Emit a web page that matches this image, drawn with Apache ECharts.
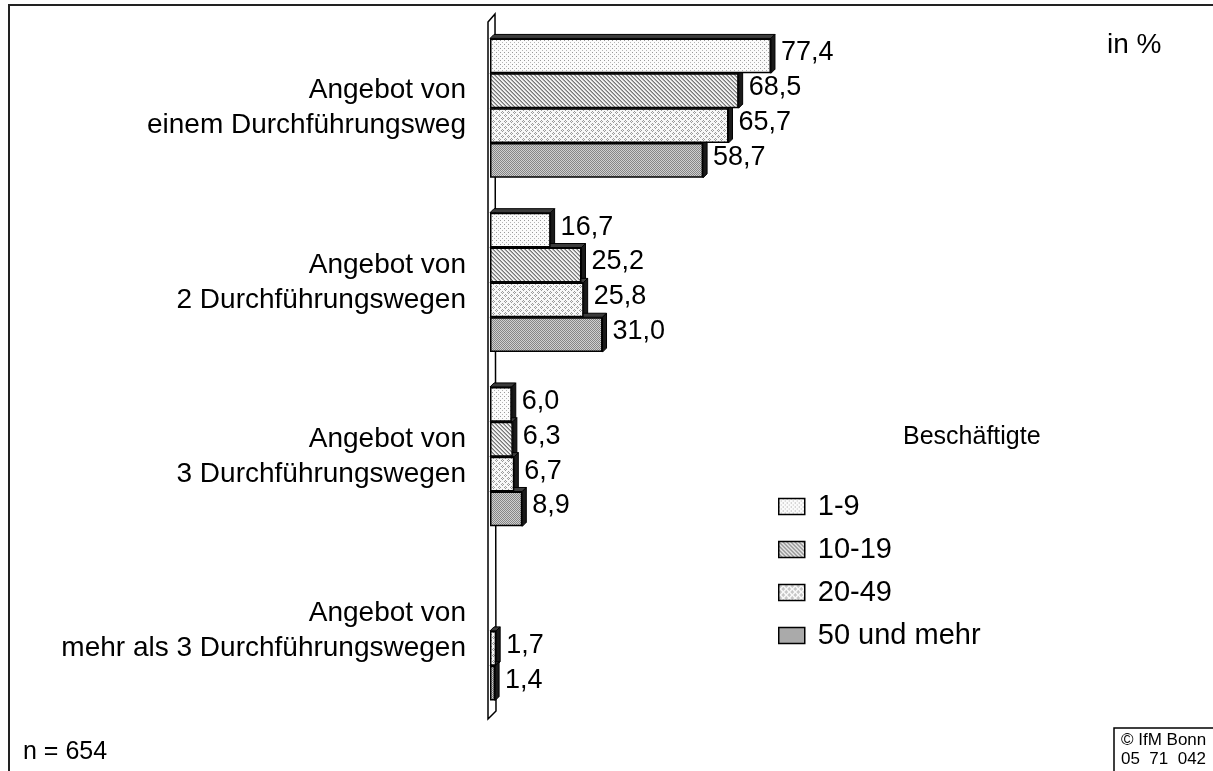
<!DOCTYPE html>
<html><head><meta charset="utf-8">
<script src="https://cdn.jsdelivr.net/npm/echarts@6/dist/echarts.min.js"></script>
<style>html,body{margin:0;padding:0;background:#fff}#chart{width:1213px;height:771px}</style>
</head><body><div id="chart"></div>
<script>
// ---- data ----
const categories = [
  'Angebot von\neinem Durchführungsweg',
  'Angebot von\n2 Durchführungswegen',
  'Angebot von\n3 Durchführungswegen',
  'Angebot von\nmehr als 3 Durchführungswegen'
];
const seriesNames = ['1-9', '10-19', '20-49', '50 und mehr'];
const v1_9    = [77.4, 16.7, 6.0, null];
const v10_19  = [68.5, 25.2, 6.3, null];
const v20_49  = [65.7, 25.8, 6.7, 1.7];
const v50plus = [58.7, 31.0, 8.9, 1.4];
const seriesValues = [v1_9, v10_19, v20_49, v50plus];
const xMax = 100;
const unitNote = 'in %';
const sampleNote = 'n = 654';
const legendTitle = 'Beschäftigte';
const copyrightLines = ['© IfM Bonn', '05  71  042'];

// ---- styles ----
const FONT = '"Liberation Sans", Arial, sans-serif';
const DEPTH = 4;
function makePattern(size, bg, dots) {
  const c = document.createElement('canvas'); c.width = size; c.height = size;
  const g = c.getContext('2d'); g.fillStyle = bg; g.fillRect(0, 0, size, size);
  dots.forEach(([x, y, col]) => { g.fillStyle = col; g.fillRect(x, y, 1, 1); });
  return { image: c, repeat: 'repeat' };
}
const patterns = [
  makePattern(4, '#fbfbfb', [[0,0,'#999'],[2,2,'#b5b5b5']]),
  makePattern(4, '#f0f0f0', [[0,0,'#777'],[1,1,'#777'],[2,2,'#777'],[3,3,'#777'],[0,1,'#aaa'],[1,2,'#aaa'],[2,3,'#aaa'],[3,0,'#aaa']]),
  makePattern(6, '#f8f8f8', [[1,0,'#999'],[0,1,'#999'],[2,1,'#999'],[1,2,'#999'],[4,3,'#999'],[3,4,'#999'],[5,4,'#999'],[4,5,'#999']]),
  makePattern(2, '#cfcfcf', [[0,0,'#858585'],[1,1,'#858585']])
];
const fmt = v => v.toFixed(1).replace('.', ',');

const barSeries = seriesNames.map((name, i) => ({
  name, type: 'bar', data: seriesValues[i], z: 3,
  barGap: '0%', barCategoryGap: '20%',
  itemStyle: { color: patterns[i], borderColor: '#000', borderWidth: 1.5 },
  label: { show: true, position: 'right', distance: 10, offset: [0, -3],
    formatter: p => fmt(p.value), fontSize: 27, color: '#000', fontFamily: FONT },
  emphasis: { disabled: true }
}));

const sideSeries = seriesNames.map((name, i) => ({
  name: name + ' 3d', type: 'custom', z: 2, silent: true,
  data: seriesValues[i].map((v, j) => v == null ? null : [v, j]).filter(d => d),
  encode: { x: 0, y: 1 },
  renderItem: (params, api) => {
    const v = api.value(0), c = api.value(1);
    const end = api.coord([v, c]), start = api.coord([0, c]);
    const band = api.size([0, 1])[1];
    const bw = band * 0.8 / 4;
    const top = end[1] - band * 0.4 + i * bw;
    const bot = top + bw;
    const x0 = start[0], x1 = end[0], d = DEPTH;
    return { type: 'group', children: [
      { type: 'polygon', shape: { points: [[x0, top], [x0 + d, top - d], [x1 + d, top - d], [x1, top]] },
        style: { fill: '#3c3c3c', stroke: '#000', lineWidth: 1 } },
      { type: 'polygon', shape: { points: [[x1, top], [x1 + d, top - d], [x1 + d, bot - d], [x1, bot]] },
        style: { fill: '#1a1a1a', stroke: '#000', lineWidth: 1 } }
    ]};
  }
}));

const wallSeries = {
  type: 'custom', z: 1, silent: true, data: [[0, 0]], encode: { x: 0, y: 1 },
  renderItem: (params, api) => {
    const cs = params.coordSys; const x0 = api.coord([0, 0])[0];
    const top = cs.y, bot = cs.y + cs.height;
    return { type: 'polygon', shape: { points: [[x0 - 2, top + 1], [x0 + 5, top - 7], [x0 + 6, bot - 7], [x0 - 2, bot + 1]] },
      style: { fill: '#fff', stroke: '#000', lineWidth: 1.5 } };
  }
};

const chart = echarts.init(document.getElementById('chart'), null, { renderer: 'canvas' });
chart.setOption({
  animation: false,
  backgroundColor: '#fff',
  textStyle: { fontFamily: FONT },
  grid: { left: 490, right: 360, top: 21, bottom: 53, containLabel: false },
  xAxis: { type: 'value', min: 0, max: xMax, show: false },
  yAxis: { type: 'category', inverse: true, data: categories,
    axisLine: { show: false }, axisTick: { show: false }, splitLine: { show: false },
    axisLabel: { fontSize: 28, lineHeight: 35, color: '#000', margin: 24, align: 'right', fontFamily: FONT } },
  legend: { data: seriesNames, orient: 'vertical', left: 778, top: 492, icon: 'rect', padding: 0,
    itemWidth: 26, itemHeight: 16, itemGap: 14, selectedMode: false,
    itemStyle: { borderColor: '#000', borderWidth: 1.5 },
    textStyle: { fontSize: 29, lineHeight: 29, color: '#000', padding: [0, 0, 0, 8], fontFamily: FONT } },
  title: [
    { text: unitNote, left: 1107, top: 31, padding: 0, textStyle: { fontSize: 28, fontWeight: 'normal', color: '#000', fontFamily: FONT } },
    { text: legendTitle, left: 903, top: 425, padding: 0, textStyle: { fontSize: 25, fontWeight: 'normal', color: '#000', fontFamily: FONT } },
    { text: sampleNote, left: 23, top: 740, padding: 0, textStyle: { fontSize: 25, fontWeight: 'normal', color: '#000', fontFamily: FONT } }
  ],
  graphic: [
    { type: 'polyline', shape: { points: [[9, 800], [9, 5], [1220, 5]] }, style: { stroke: '#222', lineWidth: 2, fill: null }, silent: true },
    { type: 'rect', shape: { x: 1114, y: 728, width: 120, height: 60 }, style: { stroke: '#000', lineWidth: 1.5, fill: '#fff' }, silent: true },
    { type: 'text', left: 1121, top: 732, style: { text: copyrightLines[0], fontSize: 17, fill: '#000', fontFamily: FONT }, silent: true },
    { type: 'text', left: 1121, top: 751, style: { text: copyrightLines[1], fontSize: 17, fill: '#000', fontFamily: FONT }, silent: true }
  ],
  series: [wallSeries, ...sideSeries, ...barSeries]
});
</script></body></html>
